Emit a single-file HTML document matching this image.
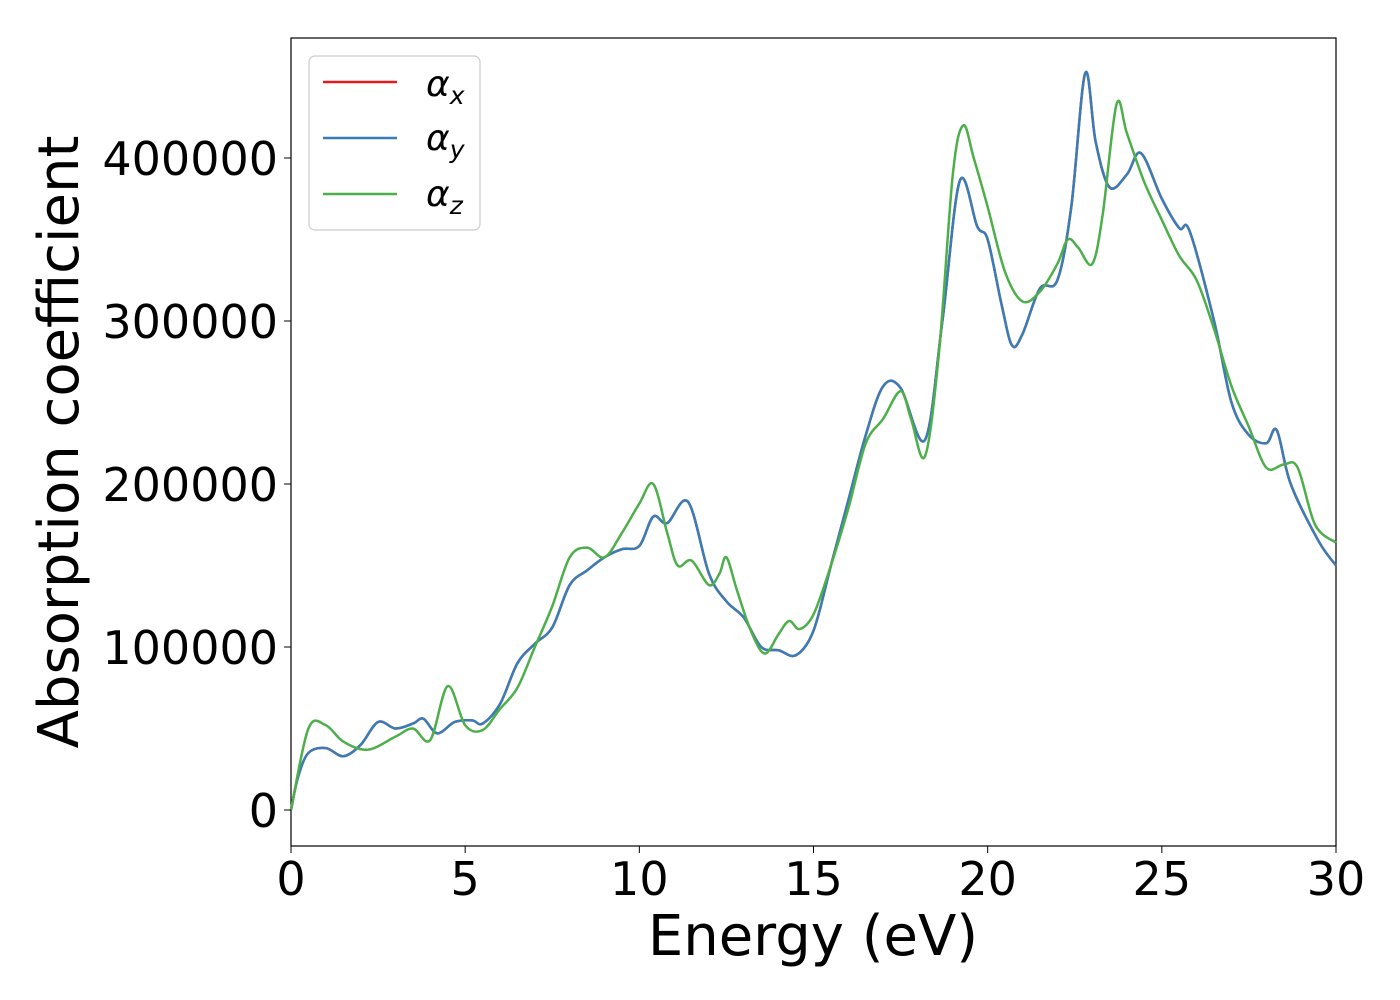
<!DOCTYPE html>
<html><head><meta charset="utf-8"><style>
html,body{margin:0;padding:0;background:#fff;}
svg{display:block;font-family:"DejaVu Sans","Liberation Sans",sans-serif;}
</style></head><body>
<svg id="chart" width="1400" height="1000">
<rect x="291" y="38" width="1045" height="808" fill="#fff" stroke="#000" stroke-width="1.2"/>
<g id="series"></g>
<g id="axes"></g>
<text x="813" y="955" font-size="56" text-anchor="middle">Energy (eV)</text>
<text transform="translate(78,442) rotate(-90)" font-size="56" text-anchor="middle">Absorption coefficient</text>
<g>
<rect x="309" y="56" width="171" height="174" rx="6" fill="#fff" stroke="#ccc" stroke-width="1.2"/>
<line x1="323" y1="82" x2="397" y2="82" stroke="#e41a1c" stroke-width="2.5"/>
<text x="426" y="96" font-size="36" font-style="italic">α<tspan font-size="25" dy="8">x</tspan></text>
<line x1="323" y1="138" x2="397" y2="138" stroke="#377eb8" stroke-width="2.5"/>
<text x="426" y="150" font-size="36" font-style="italic">α<tspan font-size="25" dy="8">y</tspan></text>
<line x1="323" y1="194" x2="397" y2="194" stroke="#4daf4a" stroke-width="2.5"/>
<text x="426" y="206" font-size="36" font-style="italic">α<tspan font-size="25" dy="8">z</tspan></text>
</g>
</svg>
<script>
const xTicks=[0,5,10,15,20,25,30];
const yTicks=[0,100000,200000,300000,400000];
const yTickLabels=["0","100000","200000","300000","400000"];
const energyXY=[0,0.2,0.5,1,1.5,2,2.5,3,3.5,3.8,4.2,4.7,5.2,5.5,6,6.5,7,7.5,8,8.5,9,9.5,10,10.4,10.8,11.4,12,12.5,13,13.5,14,14.5,15,15.5,16,16.5,17,17.5,18.2,18.7,19.2,19.7,20,20.4,20.7,21,21.5,22,22.4,22.8,23.1,23.5,24,24.4,25,25.5,25.8,26.5,27,27.5,28,28.3,28.7,29.5,30];
const alphaY=[0,20000,35000,38000,33000,40000,54000,50000,53000,56000,47000,54000,55000,53000,65000,90000,102000,112000,138000,147000,155000,160000,162000,180000,176000,189000,145000,128000,118000,100000,98000,95000,110000,150000,190000,230000,260000,259000,227000,300000,386000,358000,350000,310000,285000,292000,320000,325000,370000,452000,410000,382000,390000,403000,375000,357000,355000,300000,250000,230000,225000,233000,200000,165000,150000];
const alphaX=alphaY.slice();
const energyZ=[0,0.5,1,1.5,2.2,3,3.5,4,4.5,5,5.5,6,6.5,7,7.5,8,8.5,9,9.5,10,10.4,10.8,11.1,11.5,12,12.3,12.5,12.8,13.2,13.6,14,14.3,14.6,15,15.5,16,16.5,17,17.5,17.8,18.2,18.6,19,19.3,19.6,20,20.5,21,21.5,22,22.3,22.6,23,23.3,23.7,24,24.5,25,25.5,26,26.5,27,27.5,28,28.5,28.9,29.4,30];
const alphaZ=[0,50000,52000,42000,37000,45000,50000,43000,76000,52000,49000,62000,75000,100000,125000,155000,161000,155000,170000,188000,200000,170000,150000,153000,138000,145000,155000,135000,110000,96000,108000,116000,111000,120000,150000,185000,225000,240000,257000,240000,217000,280000,390000,420000,400000,370000,330000,312000,318000,335000,350000,345000,335000,365000,433000,415000,385000,362000,340000,325000,295000,260000,235000,210000,212000,210000,175000,164000];
const NS="http://www.w3.org/2000/svg";
const X0=291,X1=1336,Y0=810,YPX=163/100000;
function sx(v){return X0+(v/30)*(X1-X0);}
function sy(v){return Y0-v*YPX;}
function path(xs,ys){
  const p=xs.map((x,i)=>[sx(x),sy(ys[i])]);
  let d="M"+p[0][0]+","+p[0][1];
  for(let i=0;i<p.length-1;i++){
    const a=p[Math.max(i-1,0)],b=p[i],c=p[i+1],e=p[Math.min(i+2,p.length-1)];
    const c1=[b[0]+(c[0]-a[0])/6,b[1]+(c[1]-a[1])/6],c2=[c[0]-(e[0]-b[0])/6,c[1]-(e[1]-b[1])/6];
    d+=" C"+c1+" "+c2+" "+c;
  }
  return d;
}
const sg=document.getElementById("series");
[[energyXY,alphaX,"#e41a1c","line-alpha-x"],[energyXY,alphaY,"#377eb8","line-alpha-y"],[energyZ,alphaZ,"#4daf4a","line-alpha-z"]].forEach(s=>{
  const el=document.createElementNS(NS,"path");
  el.setAttribute("d",path(s[0],s[1]));
  el.setAttribute("fill","none");el.setAttribute("stroke",s[2]);el.setAttribute("stroke-width","2.5");
  
  
  sg.appendChild(el);
});
const ag=document.getElementById("axes");
xTicks.forEach(t=>{
  const l=document.createElementNS(NS,"line");
  l.setAttribute("x1",sx(t));l.setAttribute("x2",sx(t));l.setAttribute("y1",846);l.setAttribute("y2",853);l.setAttribute("stroke","#000");
  
  
  ag.appendChild(l);
  const tx=document.createElementNS(NS,"text");
  tx.setAttribute("x",sx(t));tx.setAttribute("y",895);tx.setAttribute("font-size","46");tx.setAttribute("text-anchor","middle");
  tx.textContent=String(t);
  
  
  ag.appendChild(tx);
});
yTicks.forEach((t,i)=>{
  const l=document.createElementNS(NS,"line");
  l.setAttribute("x1",284);l.setAttribute("x2",291);l.setAttribute("y1",sy(t));l.setAttribute("y2",sy(t));l.setAttribute("stroke","#000");
  
  
  ag.appendChild(l);
  const tx=document.createElementNS(NS,"text");
  tx.setAttribute("x",278);tx.setAttribute("y",sy(t)+17);tx.setAttribute("font-size","46");tx.setAttribute("text-anchor","end");
  tx.textContent=yTickLabels[i];
  
  
  ag.appendChild(tx);
});
</script>
</body></html>
